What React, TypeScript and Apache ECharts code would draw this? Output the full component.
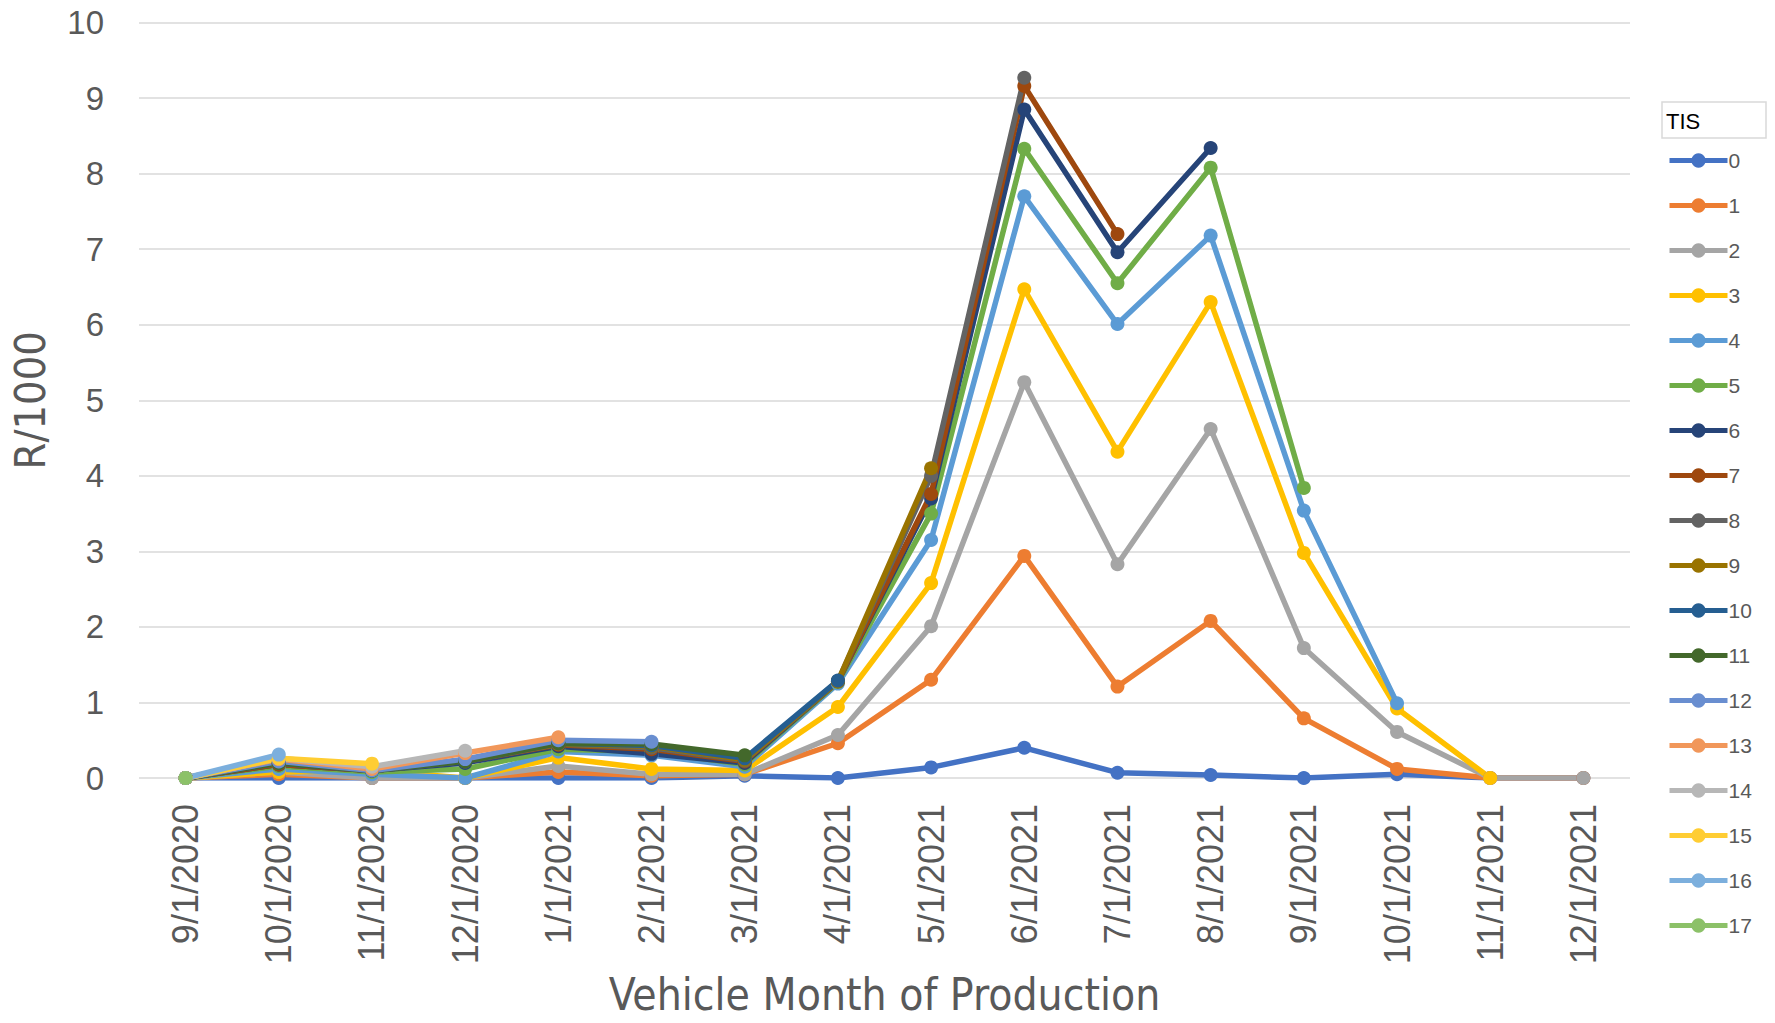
import React, { useEffect, useRef } from "react";
import * as echarts from "echarts";

const months = [
  "9/1/2020", "10/1/2020", "11/1/2020", "12/1/2020", "1/1/2021", "2/1/2021",
  "3/1/2021", "4/1/2021", "5/1/2021", "6/1/2021", "7/1/2021", "8/1/2021",
  "9/1/2021", "10/1/2021", "11/1/2021", "12/1/2021",
];

const tisNames = ["0", "1", "2", "3", "4", "5", "6", "7", "8", "9", "10", "11", "12", "13", "14", "15", "16", "17"];

const s0 = [0, 0, 0, 0, 0, 0, 0.03, 0, 0.14, 0.4, 0.07, 0.04, 0, 0.05, 0, 0];
const s1 = [0, 0.05, 0, 0, 0.08, 0.03, 0.05, 0.46, 1.3, 2.94, 1.21, 2.08, 0.79, 0.12, 0, 0];
const s2 = [0, 0.08, 0, 0, 0.16, 0.05, 0.05, 0.57, 2.01, 5.24, 2.83, 4.62, 1.72, 0.61, 0, 0];
const s3 = [0, 0.08, 0.1, 0, 0.27, 0.12, 0.1, 0.94, 2.58, 6.47, 4.32, 6.3, 2.98, 0.92, 0];
const s4 = [0, 0.12, 0.05, 0, 0.35, 0.3, 0.15, 1.25, 3.15, 7.7, 6.01, 7.18, 3.54, 0.99];
const s5 = [0, 0.16, 0.08, 0.12, 0.38, 0.35, 0.18, 1.27, 3.5, 8.33, 6.55, 8.08, 3.84];
const s6 = [0, 0.18, 0.1, 0.2, 0.42, 0.32, 0.2, 1.28, 3.7, 8.85, 6.96, 8.34];
const s7 = [0, 0.18, 0.1, 0.22, 0.44, 0.38, 0.22, 1.28, 3.76, 9.16, 7.2];
const s8 = [0, 0.2, 0.1, 0.22, 0.45, 0.4, 0.23, 1.28, 4.0, 9.27];
const s9 = [0, 0.2, 0.12, 0.23, 0.45, 0.42, 0.24, 1.28, 4.1];
const s10 = [0, 0.2, 0.1, 0.22, 0.46, 0.43, 0.26, 1.29];
const s11 = [0, 0.2, 0.1, 0.22, 0.46, 0.45, 0.3];
const s12 = [0, 0.22, 0.1, 0.25, 0.5, 0.48];
const s13 = [0, 0.25, 0.12, 0.33, 0.54];
const s14 = [0, 0.26, 0.15, 0.36];
const s15 = [0, 0.26, 0.19];
const s16 = [0, 0.31];
const s17 = [0];

const seriesValues = [s0, s1, s2, s3, s4, s5, s6, s7, s8, s9, s10, s11, s12, s13, s14, s15, s16, s17];

const colors = [
  "#4472C4", "#ED7D31", "#A5A5A5", "#FFC000", "#5B9BD5", "#70AD47",
  "#264478", "#9E480E", "#636363", "#997300", "#255E91", "#43682B",
  "#698ED0", "#F1975A", "#B7B7B7", "#FFCD33", "#7CAFDD", "#8CC168",
];

const yTicks = [0, 1, 2, 3, 4, 5, 6, 7, 8, 9, 10];

export default function App() {
  const ref = useRef<HTMLDivElement>(null);
  useEffect(() => {
    if (!ref.current) return;
    const chart = echarts.init(ref.current, null, { renderer: "svg" });
    chart.setOption({
      animation: false,
      backgroundColor: "#ffffff",
      color: colors,
      grid: { left: 139, right: 145, top: 22.6, bottom: 245, containLabel: false, outerBoundsMode: "none" },
      legend: {
        orient: "vertical",
        left: 1662,
        top: 145,
        itemWidth: 58,
        itemHeight: 18,
        itemGap: 24,
        data: tisNames,
        lineStyle: { width: 5 },
        textStyle: { color: "#595959", fontSize: 21, fontFamily: "Liberation Sans", padding: [0, 0, 0, -4] },
      },
      graphic: [
        {
          type: "rect",
          shape: { x: 1662, y: 102, width: 104, height: 36 },
          style: { fill: "#ffffff", stroke: "#d9d9d9", lineWidth: 1.5 },
        },
        {
          type: "text",
          x: 1666,
          y: 121,
          style: { text: "TIS", fill: "#000000", fontSize: 22, fontFamily: "Liberation Sans", verticalAlign: "middle" },
        },
      ],
      xAxis: {
        type: "category",
        data: months,
        boundaryGap: true,
        axisLine: { show: false },
        axisTick: { show: false },
        axisLabel: {
          rotate: 90,
          margin: 26,
          color: "#595959",
          fontSize: 36,
          fontFamily: "Liberation Sans",
          interval: 0,
        },
        name: "Vehicle Month of Production",
        nameLocation: "middle",
        nameGap: 192,
        nameTextStyle: { color: "#595959", fontSize: 44, fontFamily: "Liberation Sans Narrow, DejaVu Sans Condensed" },
      },
      yAxis: {
        type: "value",
        min: yTicks[0],
        max: yTicks[yTicks.length - 1],
        interval: 1,
        axisLine: { show: false },
        axisTick: { show: false },
        splitLine: { lineStyle: { color: "#d9d9d9", width: 1.5 } },
        axisLabel: { color: "#595959", fontSize: 33, fontFamily: "Liberation Sans", margin: 35 },
        name: "R/1000",
        nameLocation: "middle",
        nameGap: 88,
        nameRotate: 90,
        nameTextStyle: { color: "#595959", fontSize: 43, fontFamily: "Liberation Sans Narrow, DejaVu Sans Condensed" },
      },
      series: seriesValues.map((vals, i) => ({
        name: tisNames[i],
        type: "line",
        data: vals,
        symbol: "circle",
        symbolSize: 14,
        lineStyle: { width: 5.5, color: colors[i] },
        itemStyle: { color: colors[i] },
        emphasis: { disabled: true },
      })),
    });
    return () => chart.dispose();
  }, []);
  return <div ref={ref} style={{ width: 1775, height: 1023, margin: -8 }} />;
}
